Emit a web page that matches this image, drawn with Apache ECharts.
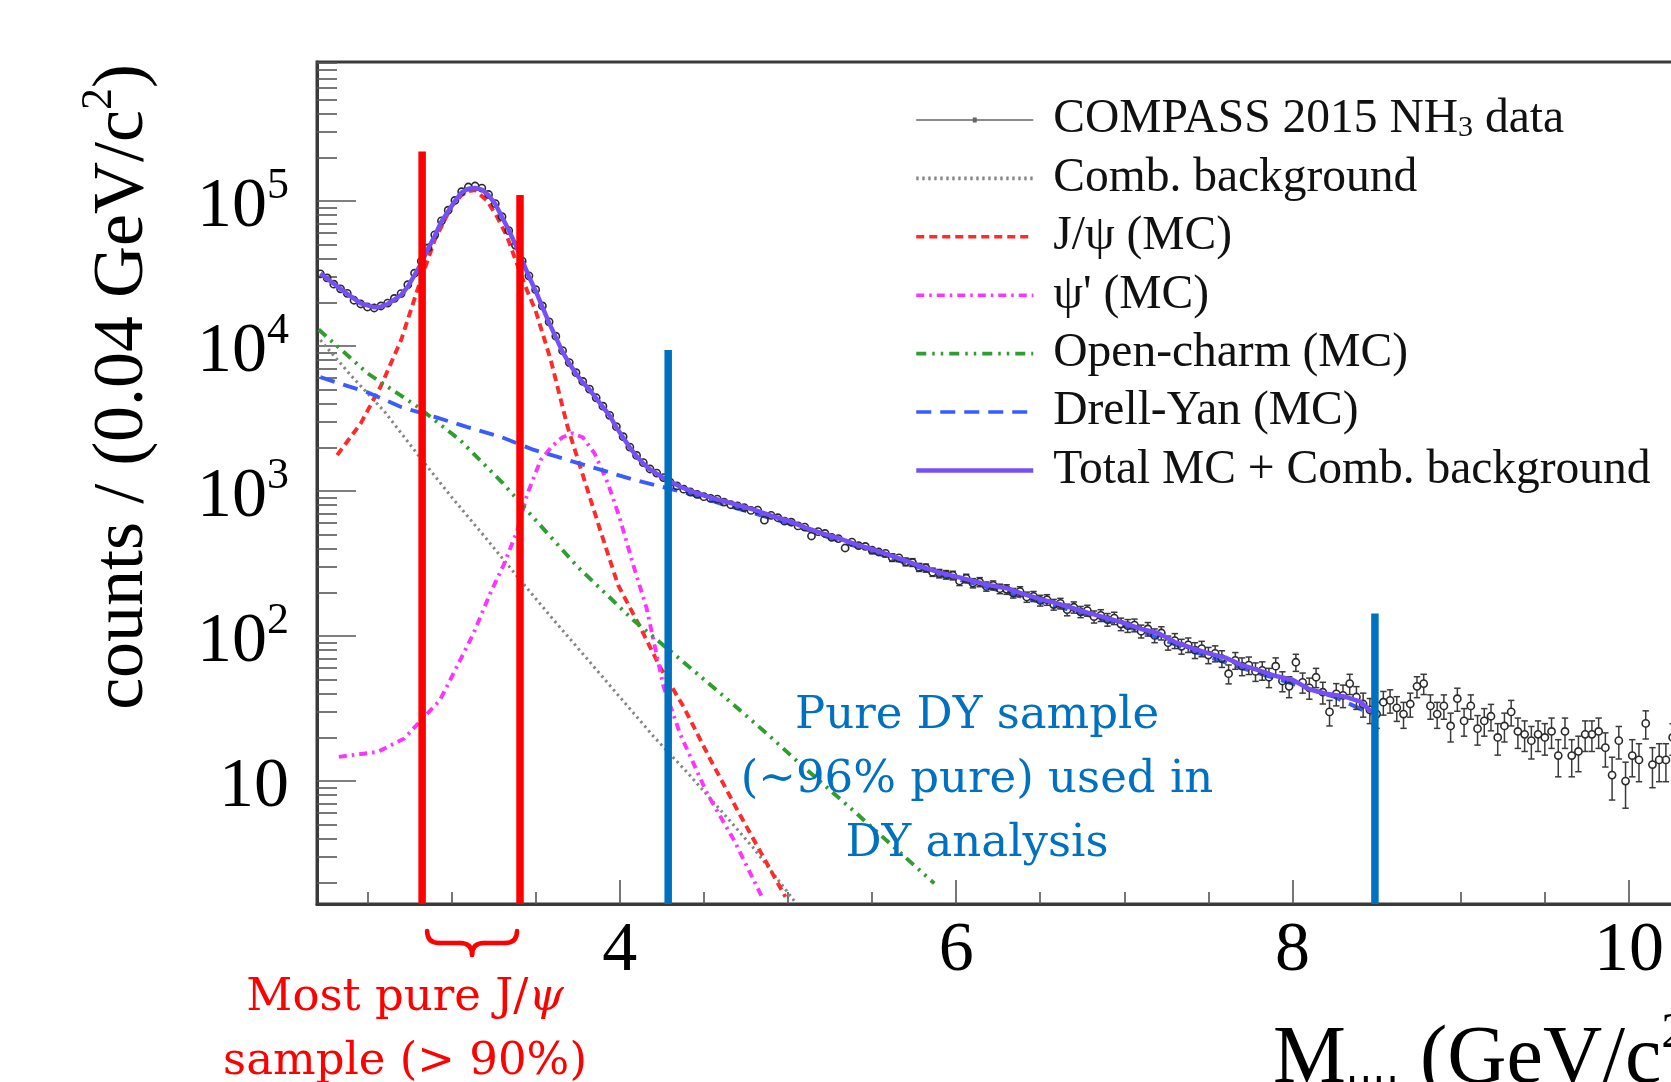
<!DOCTYPE html>
<html>
<head>
<meta charset="utf-8">
<script src="https://cdn.jsdelivr.net/npm/echarts@6.0.0/dist/echarts.min.js"></script>
<style>
  html, body { margin: 0; padding: 0; background: #fff; }
  #chart { width: 1671px; height: 1082px; }
</style>
</head>
<body>
<div id="chart"></div>
<script>
// ---- data ----
const massBins = [
  2.22, 2.26, 2.30, 2.34, 2.38, 2.42, 2.46, 2.50, 2.54, 2.58,
  2.62, 2.66, 2.70, 2.74, 2.78, 2.82, 2.86, 2.90, 2.94, 2.98,
  3.02, 3.06, 3.10, 3.14, 3.18, 3.22, 3.26, 3.30, 3.34, 3.38,
  3.42, 3.46, 3.50, 3.54, 3.58, 3.62, 3.66, 3.70, 3.74, 3.78,
  3.82, 3.86, 3.90, 3.94, 3.98, 4.02, 4.06, 4.10, 4.14, 4.18,
  4.22, 4.26, 4.30, 4.34, 4.38, 4.42, 4.46, 4.50, 4.54, 4.58,
  4.62, 4.66, 4.70, 4.74, 4.78, 4.82, 4.86, 4.90, 4.94, 4.98,
  5.02, 5.06, 5.10, 5.14, 5.18, 5.22, 5.26, 5.30, 5.34, 5.38,
  5.42, 5.46, 5.50, 5.54, 5.58, 5.62, 5.66, 5.70, 5.74, 5.78,
  5.82, 5.86, 5.90, 5.94, 5.98, 6.02, 6.06, 6.10, 6.14, 6.18,
  6.22, 6.26, 6.30, 6.34, 6.38, 6.42, 6.46, 6.50, 6.54, 6.58,
  6.62, 6.66, 6.70, 6.74, 6.78, 6.82, 6.86, 6.90, 6.94, 6.98,
  7.02, 7.06, 7.10, 7.14, 7.18, 7.22, 7.26, 7.30, 7.34, 7.38,
  7.42, 7.46, 7.50, 7.54, 7.58, 7.62, 7.66, 7.70, 7.74, 7.78,
  7.82, 7.86, 7.90, 7.94, 7.98, 8.02, 8.06, 8.10, 8.14, 8.18,
  8.22, 8.26, 8.30, 8.34, 8.38, 8.42, 8.46, 8.50, 8.54, 8.58,
  8.62, 8.66, 8.70, 8.74, 8.78, 8.82, 8.86, 8.90, 8.94, 8.98,
  9.02, 9.06, 9.10, 9.14, 9.18, 9.22, 9.26, 9.30, 9.34, 9.38,
  9.42, 9.46, 9.50, 9.54, 9.58, 9.62, 9.66, 9.70, 9.74, 9.78,
  9.82, 9.86, 9.90, 9.94, 9.98, 10.02, 10.06, 10.10, 10.14, 10.18,
  10.22, 10.26
];
const counts = [
  31500, 29500, 26700, 24800, 23100, 20700, 19500, 18600, 18300, 18900,
  19800, 21300, 23000, 26500, 31800, 38500, 47500, 58500, 73000, 86500,
  101000, 116000, 125000, 127000, 123000, 111000, 96000, 78000, 62500, 49500,
  38500, 30500, 24500, 18900, 14700, 11700, 9300, 7700, 6550, 5700,
  5050, 4400, 3850, 3330, 2780, 2370, 2010, 1760, 1570, 1420,
  1330, 1240, 1150, 1085, 1030, 985, 950, 915, 890, 880,
  840, 805, 790, 770, 735, 740, 630, 680, 655, 620,
  610, 575, 565, 490, 525, 510, 480, 470, 405, 445,
  420, 415, 392, 380, 372, 348, 346, 325, 322, 298,
  295, 276, 270, 265, 262, 240, 250, 232, 236, 220,
  224, 212, 210, 198, 203, 186, 188, 176, 178, 165,
  168, 152, 158, 147, 150, 136, 139, 130, 133, 121,
  118, 119, 108, 112, 101, 105, 90, 93, 85, 87,
  80, 82, 74, 76, 70, 55, 68, 62, 63, 57,
  58, 52, 62, 49, 45, 66, 48, 44, 52, 41,
  30, 40, 39, 47, 38, 34, 31, 29, 35, 36,
  32, 29, 34, 45, 47, 33, 29, 33, 24, 37,
  26, 33, 23, 26, 28, 20, 24, 30, 22, 21,
  19, 21, 20, 22, 15, 22, 15, 16, 21, 21,
  22, 17, 11, 19, 10, 15, 14, 25, 13, 14,
  14, 20
];
const countErr = [
  195, 190, 180, 173, 167, 158, 154, 150, 149, 151,
  155, 160, 167, 179, 196, 216, 240, 266, 297, 324,
  350, 375, 389, 392, 386, 366, 341, 307, 275, 245,
  216, 192, 172, 151, 133, 119, 106, 97, 89, 83,
  78, 73, 68, 63, 58, 54, 49, 46, 44, 41,
  40, 39, 37, 36, 35, 35, 34, 33, 33, 33,
  32, 31, 31, 31, 30, 30, 28, 29, 28, 27,
  27, 26, 26, 24, 25, 25, 24, 24, 22, 23,
  23, 22, 22, 21, 21, 21, 20, 20, 20, 19,
  19, 18, 18, 18, 18, 17, 17, 17, 17, 16,
  16, 16, 16, 15, 16, 15, 15, 15, 15, 14,
  14, 14, 14, 13, 13, 13, 13, 13, 13, 12,
  12, 12, 11, 12, 11, 11, 10, 11, 10, 10,
  10, 10, 9.5, 9.6, 9.2, 8.2, 9, 8.7, 8.7, 8.3,
  8.4, 7.9, 8.7, 7.7, 7.4, 8.9, 7.6, 7.3, 7.9, 7,
  6, 7, 6.9, 7.5, 6.8, 6.4, 6.1, 5.9, 6.5, 6.6,
  6.2, 5.9, 6.4, 7.4, 7.5, 6.3, 5.9, 6.3, 5.4, 6.7,
  5.6, 6.3, 5.3, 5.6, 5.8, 4.9, 5.4, 6, 5.2, 5,
  4.8, 5, 4.9, 5.2, 4.3, 5.2, 4.3, 4.4, 5, 5,
  5.2, 4.5, 3.6, 4.8, 3.5, 4.3, 4.1, 5.5, 4, 4.1,
  4.1, 4.9
];

const combX = [2.22, 2.40, 2.60, 2.80, 3.00, 3.20, 3.40, 3.60, 3.80, 4.00, 4.20, 4.40, 4.60, 4.80, 5.04];
const combY = [11000, 6300, 3550, 1780, 910, 480, 250, 132, 71, 38, 20.4, 11.5, 6.3, 3.4, 1.48];

const jpsiX = [2.32, 2.46, 2.58, 2.70, 2.80, 2.90, 3.00, 3.06, 3.10, 3.14, 3.21, 3.27, 3.33, 3.40, 3.45, 3.50,
  3.59, 3.69, 3.79, 3.89, 3.99, 4.12, 4.24, 4.38, 4.54, 4.70, 4.84, 4.985];
const jpsiY = [1770, 2930, 5300, 11000, 25000, 54000, 92000, 110000, 117000, 119000, 101000, 78000, 57000, 34000, 24000, 17500,
  8000, 2770, 1190, 511, 225, 116, 61, 32.5, 14, 6.3, 3.2, 1.59];

const psiX = [2.33, 2.56, 2.72, 2.82, 2.93, 3.03, 3.13, 3.23, 3.31, 3.39, 3.45, 3.53, 3.60, 3.66, 3.72, 3.78,
  3.85, 3.93, 4.00, 4.08, 4.16, 4.26, 4.36, 4.52, 4.68, 4.85];
const psiY = [14.7, 15.9, 19.7, 26.4, 36, 61, 104, 197, 310, 530, 950, 1640, 2050, 2350, 2500, 2350,
  1820, 1130, 650, 310, 155, 45, 21, 8.2, 3.9, 1.55];

const openCharmX = [2.21, 2.50, 2.80, 3.05, 3.30, 3.50, 3.75, 4.08, 4.30, 4.58, 4.88, 5.07, 5.40, 5.87];
const openCharmY = [13000, 6500, 3800, 2250, 1150, 630, 300, 129, 79, 42, 21, 13.2, 6.1, 1.97];

const dyX = [2.22, 2.50, 2.70, 2.90, 3.09, 3.29, 3.49, 3.69, 3.89, 4.08, 4.28, 4.44, 4.60, 4.80,
  5.00, 5.30, 5.60, 5.90, 6.20, 6.50, 6.80, 7.10, 7.40, 7.70, 8.00, 8.25, 8.47];
const dyY = [6100, 4800, 3800, 3250, 2770, 2370, 1920, 1640, 1400, 1200, 1050, 940, 820, 700,
  600, 455, 350, 266, 215, 172, 138, 108, 79, 60, 47, 38, 29];

const totalX = [2.22, 2.30, 2.38, 2.46, 2.54, 2.58, 2.62, 2.66, 2.70, 2.74, 2.78, 2.82, 2.86, 2.90, 2.94,
  2.98, 3.02, 3.06, 3.10, 3.14, 3.18, 3.22, 3.26, 3.30, 3.34, 3.38, 3.42, 3.46, 3.50, 3.54, 3.58, 3.62,
  3.66, 3.70, 3.74, 3.78, 3.82, 3.86, 3.90, 3.94, 3.98, 4.02, 4.06, 4.10, 4.14, 4.18, 4.22, 4.26, 4.30,
  4.38, 4.46, 4.54, 4.62, 4.70, 4.80, 4.90, 5.00, 5.10, 5.20, 5.30, 5.40, 5.50, 5.60, 5.70, 5.80, 5.90,
  6.00, 6.10, 6.20, 6.30, 6.40, 6.50, 6.60, 6.70, 6.80, 6.90, 7.00, 7.10, 7.20, 7.30, 7.40, 7.50, 7.60,
  7.70, 7.80, 7.90, 8.00, 8.10, 8.20, 8.30, 8.40, 8.47];
const totalY = [31700, 26900, 22900, 19700, 18500, 18700, 19500, 20900, 22500, 25700, 30900, 37200, 46800, 57500, 72400,
  85100, 100000, 114800, 121600, 123000, 120000, 109600, 95500, 77600, 63100, 50100, 38900, 30200, 24000, 18600, 14450, 11480,
  9120, 7590, 6460, 5620, 5010, 4365, 3800, 3310, 2750, 2340, 1995, 1740, 1550, 1410, 1320, 1230, 1160,
  1047, 966, 902, 851, 804, 741, 676, 625, 562, 513, 473, 431, 398, 363, 331, 299, 275,
  257, 240, 224, 214, 195, 180, 168, 155, 143, 133, 123, 112, 105, 91, 83, 76, 71,
  63, 58, 53, 50, 43, 40, 38.5, 35.5, 30];

// mass windows drawn on top of the plot
const jpsiCuts = [2.825, 3.407];
const jpsiCutTops = [2.2e5, 1.1e5];
const dyCuts = [4.288, 8.49];
const dyCutTops = [9.4e3, 143];

// axes
const xMin = 2.2, xMax = 10.5;
const yMin = 1.42, yMax = 9.1e5;
const xMajorTicks = [4, 6, 8, 10];
const xMinorTicks = [2.5, 3, 3.5, 4.5, 5, 5.5, 6.5, 7, 7.5, 8.5, 9, 9.5, 10.5];
const yMajorTicks = [10, 100, 1000, 10000, 100000];
const yMinorSteps = [2, 3, 4, 5, 6, 7, 8, 9];
const yMinorTicks = [1, 10, 100, 1000, 10000, 100000]
  .flatMap(d => yMinorSteps.map(s => s * d))
  .filter(v => v >= yMin && v <= yMax);

const dataName = 'COMPASS 2015 NH3 data';
const serif = 'Liberation Serif';
const noteFont = 'DejaVu Serif';
const frameColor = '#3a3a3a';

const pairs = (xs, ys) => xs.map((x, i) => [x, ys[i]]);

function curve(name, xs, ys, color, dash, width) {
  return {
    name, type: 'line', data: pairs(xs, ys), symbol: 'none', z: 3, clip: true,
    lineStyle: { color, type: dash, width, cap: 'butt' },
    itemStyle: { color }
  };
}

function cutLine(x, top, color) {
  return {
    type: 'line', data: [[x, yMin], [x, top]], symbol: 'none', z: 8, silent: true, clip: true,
    lineStyle: { color, width: 7.5, cap: 'butt' }
  };
}

const chart = echarts.init(document.getElementById('chart'));

const option = {
  animation: false,
  backgroundColor: '#fff',
  grid: {
    left: 317, top: 62, right: -42, bottom: 178,
    show: true, borderColor: frameColor, borderWidth: 3,
    containLabel: false, outerBoundsMode: 'none'
  },
  legend: {
    data: [
      { name: dataName, icon: 'path://M0,2.3H117V3.7H0Z M56.5,0.5H60.5V5.5H56.5Z' },
      { name: 'Comb. background', itemStyle: { opacity: 0 } },
      { name: 'J/ψ (MC)', itemStyle: { opacity: 0 } },
      { name: "ψ' (MC)", itemStyle: { opacity: 0 } },
      { name: 'Open-charm (MC)', itemStyle: { opacity: 0 } },
      { name: 'Drell-Yan (MC)', itemStyle: { opacity: 0 } },
      { name: 'Total MC + Comb. background', itemStyle: { opacity: 0 }, lineStyle: { width: 4.5 } }
    ],
    orient: 'vertical', left: 914, top: 96, padding: 0,
    itemGap: 10.4, itemWidth: 117, itemHeight: 8,
    selectedMode: false,
    lineStyle: { width: 3.6 },
    formatter(name) {
      const label = name === dataName ? '{t|COMPASS 2015 NH}{u|3}{t| data}' : '{t|' + name + '}';
      return '{g| }' + label;
    },
    textStyle: {
      fontFamily: serif, fontSize: 47, color: '#111', lineHeight: 47,
      rich: {
        g: { width: 15, fontSize: 47, lineHeight: 47 },
        t: { fontFamily: serif, fontSize: 47.5, color: '#111', lineHeight: 47 },
        u: { fontFamily: serif, fontSize: 30, color: '#111', lineHeight: 4, verticalAlign: 'bottom' }
      }
    }
  },
  xAxis: [
    {
      type: 'value', min: xMin, max: xMax, position: 'bottom',
      axisLine: { show: true, lineStyle: { color: frameColor, width: 3 } },
      axisTick: { show: true, inside: true, length: 24, customValues: xMajorTicks, lineStyle: { color: '#555', width: 1.6 } },
      axisLabel: { customValues: xMajorTicks, fontFamily: serif, fontSize: 70, lineHeight: 70, color: '#000', margin: 13 },
      splitLine: { show: false }
    },
    {
      type: 'value', min: xMin, max: xMax, position: 'bottom',
      axisLine: { show: false },
      axisTick: { show: true, inside: true, length: 12, customValues: xMinorTicks, lineStyle: { color: '#555', width: 1.6 } },
      axisLabel: { show: false },
      splitLine: { show: false }
    }
  ],
  yAxis: [
    {
      type: 'log', logBase: 10, min: yMin, max: yMax, position: 'left',
      axisLine: { show: true, lineStyle: { color: frameColor, width: 3 } },
      axisTick: { show: true, inside: true, length: 39, customValues: yMajorTicks, lineStyle: { color: '#555', width: 1.6 } },
      axisLabel: {
        customValues: yMajorTicks, margin: 28, padding: [14, 0, 0, 0],
        formatter(v) {
          const e = Math.round(Math.log10(v));
          return e === 1 ? '{b|10}' : '{b|10}{s|' + e + '}';
        },
        rich: {
          b: { fontFamily: serif, fontSize: 70, lineHeight: 88, color: '#000' },
          s: { fontFamily: serif, fontSize: 44, lineHeight: 44, color: '#000', verticalAlign: 'top' }
        }
      },
      splitLine: { show: false },
      minorTick: { show: false }
    },
    {
      type: 'log', logBase: 10, min: yMin, max: yMax, position: 'left',
      axisLine: { show: false },
      axisTick: { show: true, inside: true, length: 20, customValues: yMinorTicks, lineStyle: { color: '#555', width: 1.6 } },
      axisLabel: { show: false },
      splitLine: { show: false }
    }
  ],
  series: [
    curve('Comb. background', combX, combY, '#858585', [2.4, 3.6], 3),
    curve('J/ψ (MC)', jpsiX, jpsiY, '#ff2a2a', [8, 5], 3.9),
    curve("ψ' (MC)", psiX, psiY, '#ff33ff', [8, 5, 2.5, 5], 3.9),
    curve('Open-charm (MC)', openCharmX, openCharmY, '#2f9e2f', [10, 6, 2.5, 6, 2.5, 6], 3.9),
    curve('Drell-Yan (MC)', dyX, dyY, '#3a5cff', [15, 9], 3.9),
    {
      name: dataName, type: 'custom', z: 4, clip: true,
      itemStyle: { color: '#666' },
      data: massBins.map((m, i) => [m, counts[i], countErr[i]]),
      encode: { x: 0, y: 1 },
      renderItem(params, api) {
        const x = api.value(0), y = api.value(1), e = api.value(2);
        const p = api.coord([x, y]);
        const hi = api.coord([x, y + e]);
        const lo = api.coord([x, Math.max(y - e, 0.01)]);
        const r = 3.6, cap = 3.2;
        const st = { stroke: '#3a3a3a', lineWidth: 1.5, fill: 'none' };
        const kids = [];
        if (p[1] - hi[1] > r) {
          kids.push({ type: 'line', shape: { x1: p[0], y1: p[1] - r, x2: p[0], y2: hi[1] }, style: st });
          kids.push({ type: 'line', shape: { x1: p[0] - cap, y1: hi[1], x2: p[0] + cap, y2: hi[1] }, style: st });
        }
        if (lo[1] - p[1] > r) {
          kids.push({ type: 'line', shape: { x1: p[0], y1: p[1] + r, x2: p[0], y2: lo[1] }, style: st });
          kids.push({ type: 'line', shape: { x1: p[0] - cap, y1: lo[1], x2: p[0] + cap, y2: lo[1] }, style: st });
        }
        kids.push({ type: 'circle', shape: { cx: p[0], cy: p[1], r }, style: { stroke: '#2a2a2a', lineWidth: 1.6, fill: 'none' } });
        return { type: 'group', children: kids };
      }
    },
    Object.assign(curve('Total MC + Comb. background', totalX, totalY, '#7650f7', 'solid', 4.5), { z: 5 }),
    cutLine(jpsiCuts[0], jpsiCutTops[0], '#ff0000'),
    cutLine(jpsiCuts[1], jpsiCutTops[1], '#ff0000'),
    cutLine(dyCuts[0], dyCutTops[0], '#0070c0'),
    cutLine(dyCuts[1], dyCutTops[1], '#0070c0')
  ]
};

chart.setOption(option);

// annotations: axis titles, sample notes and the brace under the J/psi window
const bl = chart.convertToPixel({ xAxisIndex: 0 }, jpsiCuts[0]) + 5;
const br = chart.convertToPixel({ xAxisIndex: 0 }, jpsiCuts[1]) - 3;
const bc = (bl + br) / 2;
const bTop = 931, bMid = 943, bTip = 955, rr = 12;
const braceStyle = { stroke: '#ff0000', lineWidth: 4.5, lineCap: 'round', fill: 'none' };

const yTitleRich = {
  t: { fontFamily: serif, fontSize: 72, lineHeight: 92, fill: '#000' },
  s: { fontFamily: serif, fontSize: 44, lineHeight: 44, fill: '#000', verticalAlign: 'top' }
};
const xTitleRich = {
  t: { fontFamily: serif, fontSize: 82, lineHeight: 102, fill: '#000' },
  s: { fontFamily: serif, fontSize: 50, lineHeight: 50, fill: '#000', verticalAlign: 'top' },
  u: { fontFamily: serif, fontSize: 50, lineHeight: 44, fill: '#000', verticalAlign: 'bottom' }
};

chart.setOption({
  graphic: [
    {
      type: 'text', x: 123, y: 64, rotation: Math.PI / 2, z: 100, silent: true,
      style: { text: '{t|counts / (0.04 GeV/c}{s|2}{t|)}', align: 'right', verticalAlign: 'middle', rich: yTitleRich }
    },
    {
      type: 'text', x: 1273, y: 1060, z: 100, silent: true,
      style: { text: '{t|M}{u|μμ}{t| (GeV/c}{s|2}{t|)}', align: 'left', verticalAlign: 'middle', rich: xTitleRich }
    },
    {
      type: 'text', x: 977, y: 780, z: 100, silent: true,
      style: {
        text: 'Pure DY sample\n(~96% pure) used in\nDY analysis',
        align: 'center', verticalAlign: 'middle',
        fontFamily: noteFont, fontSize: 45, lineHeight: 64, fill: '#0070c0'
      }
    },
    {
      type: 'text', x: 405, y: 1030, z: 100, silent: true,
      style: {
        text: '{r|Most pure J/}{i|ψ}\n{r|sample (> 90%)}',
        align: 'center', verticalAlign: 'middle',
        rich: {
          r: { fontFamily: noteFont, fontSize: 45, lineHeight: 64, fill: '#ff0000' },
          i: { fontFamily: noteFont, fontSize: 45, lineHeight: 64, fill: '#ff0000', fontStyle: 'italic' }
        }
      }
    },
    { type: 'bezierCurve', z: 100, silent: true, style: braceStyle,
      shape: { x1: bl, y1: bTop, cpx1: bl, cpy1: bMid, x2: bl + rr, y2: bMid } },
    { type: 'line', z: 100, silent: true, style: braceStyle,
      shape: { x1: bl + rr, y1: bMid, x2: bc - rr, y2: bMid } },
    { type: 'bezierCurve', z: 100, silent: true, style: braceStyle,
      shape: { x1: bc - rr, y1: bMid, cpx1: bc, cpy1: bMid, x2: bc, y2: bTip } },
    { type: 'bezierCurve', z: 100, silent: true, style: braceStyle,
      shape: { x1: bc, y1: bTip, cpx1: bc, cpy1: bMid, x2: bc + rr, y2: bMid } },
    { type: 'line', z: 100, silent: true, style: braceStyle,
      shape: { x1: bc + rr, y1: bMid, x2: br - rr, y2: bMid } },
    { type: 'bezierCurve', z: 100, silent: true, style: braceStyle,
      shape: { x1: br - rr, y1: bMid, cpx1: br, cpy1: bMid, x2: br, y2: bTop } }
  ]
});
</script>
</body>
</html>
